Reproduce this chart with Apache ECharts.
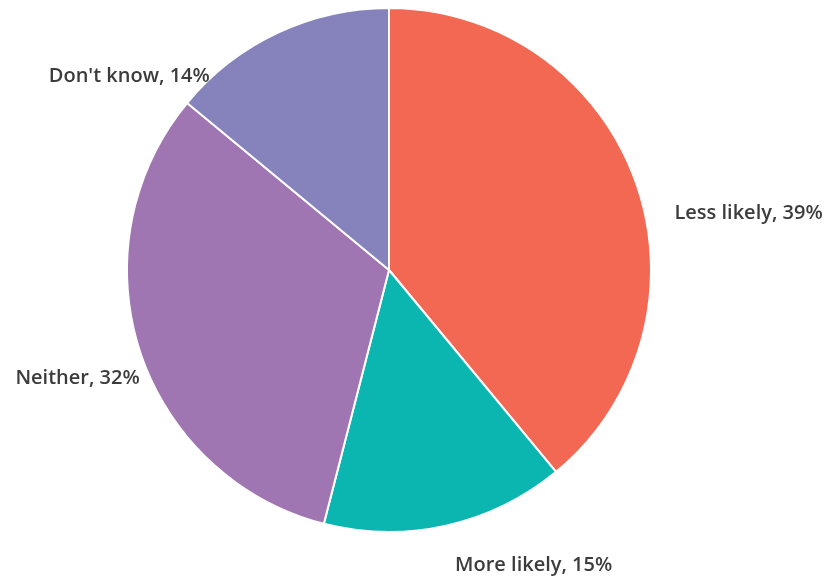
<!DOCTYPE html>
<html>
<head>
<meta charset="utf-8">
<script src="https://cdn.jsdelivr.net/npm/echarts@6/dist/echarts.min.js"></script>
<style>
  html, body { margin: 0; padding: 0; background: #ffffff; }
  #chart { width: 830px; height: 578px; }
</style>
</head>
<body>
<div id="chart"></div>
<script>
// Survey answer shares, drawn clockwise from 12 o'clock
const categories = ['Less likely', 'More likely', 'Neither', "Don't know"];
const shares = [39, 15, 32, 14];
const sliceColors = ['#f26852', '#0cb6b0', '#a076b2', '#8682bc'];

// Small nudges that pull each outside label into its spot beside the slice
const labelNudges = [[11, 38], [-6, 22], [28, 22], [-49, 60]];

const chart = echarts.init(document.getElementById('chart'));

chart.setOption({
  animation: false,
  series: [{
    type: 'pie',
    center: [389, 270],
    radius: 262,
    startAngle: 90,
    clockwise: true,
    avoidLabelOverlap: false,
    data: categories.map((name, i) => ({
      name: name,
      value: shares[i],
      itemStyle: { color: sliceColors[i] }
    })),
    itemStyle: { borderColor: '#ffffff', borderWidth: 2 },
    label: {
      show: true,
      position: 'outside',
      formatter: p => p.name + ', ' + p.value + '%',
      fontFamily: 'Open Sans',
      fontSize: 20,
      fontWeight: 600,
      color: '#3c3c3c'
    },
    labelLine: { show: false, length: 18, length2: 6 },
    labelLayout: p => ({ dx: labelNudges[p.dataIndex][0], dy: labelNudges[p.dataIndex][1] }),
    emphasis: { disabled: true }
  }]
});
</script>
</body>
</html>
